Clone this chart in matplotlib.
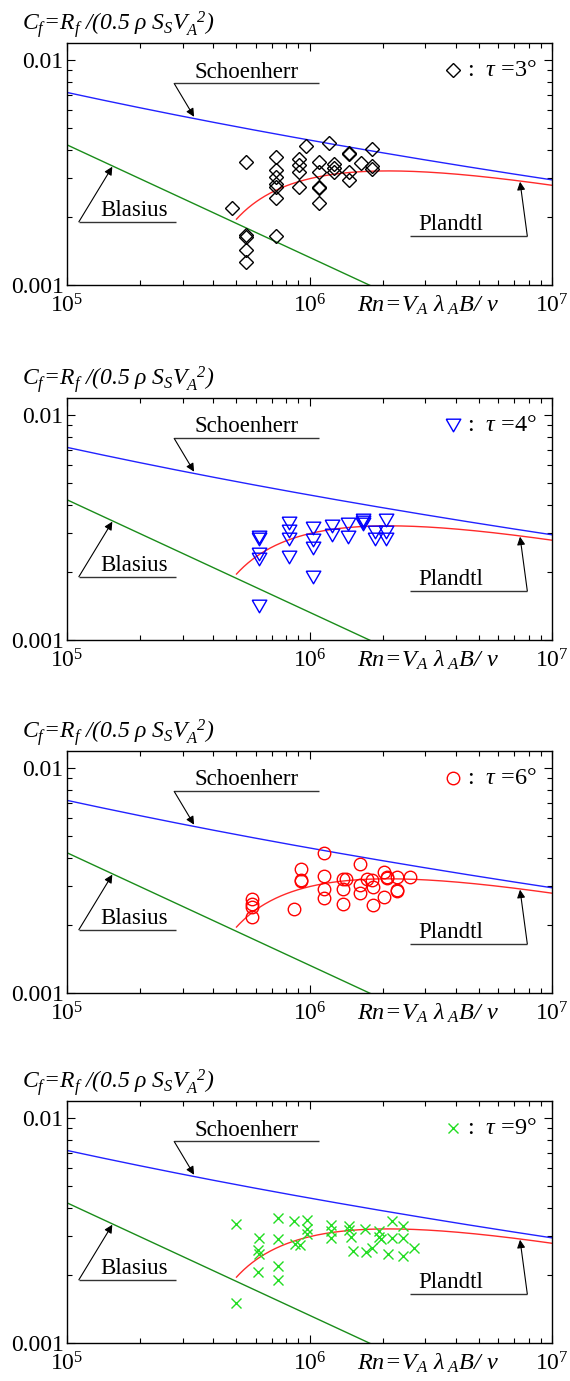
import numpy as np
import matplotlib
matplotlib.use("Agg")
import matplotlib.pyplot as plt
from matplotlib.ticker import FixedLocator, FixedFormatter, LogLocator, NullFormatter

plt.rcParams["font.family"] = ["Liberation Serif", "DejaVu Serif"]
plt.rcParams["mathtext.fontset"] = "custom"
plt.rcParams["mathtext.rm"] = "Liberation Serif:italic"
plt.rcParams["mathtext.it"] = "Liberation Serif:italic"
plt.rcParams["mathtext.bf"] = "Liberation Serif:bold"

# ---- axis ticks ----
re_ticks = [1e5, 1e6, 1e7]
re_tick_labels = [r"$\mathregular{10^{5}}$", r"$\mathregular{10^{6}}$", r"$\mathregular{10^{7}}$"]
cf_ticks = [0.001, 0.01]
cf_tick_labels = ["0.001", "0.01"]
re_limits = (1e5, 1e7)
cf_limits = (0.001, 0.0119)

# ---- trim angles (deg) ----
trim_angles = [3, 4, 6, 9]

# ---- measured friction coefficients, tau = 3 deg ----
re_t3 = [4.81e5,
         5.48e5, 5.48e5, 5.48e5, 5.48e5, 5.48e5,
         7.27e5, 7.27e5, 7.27e5, 7.27e5, 7.27e5, 7.27e5, 7.27e5,
         9.09e5, 9.09e5, 9.09e5, 9.09e5,
         9.68e5,
         1.092e6, 1.092e6, 1.092e6, 1.092e6, 1.092e6,
         1.199e6,
         1.262e6, 1.262e6, 1.262e6,
         1.449e6, 1.449e6, 1.449e6, 1.449e6,
         1.635e6,
         1.813e6, 1.813e6, 1.813e6]
cf_t3 = [0.00221,
         0.00353, 0.00167, 0.00164, 0.00143, 0.00126,
         0.00369, 0.00324, 0.00303, 0.00280, 0.00274, 0.00243, 0.00165,
         0.00363, 0.00341, 0.00319, 0.00274,
         0.00415,
         0.00351, 0.00319, 0.00274, 0.00269, 0.00232,
         0.00429,
         0.00345, 0.00330, 0.00319,
         0.00385, 0.00383, 0.00319, 0.00293,
         0.00347,
         0.00401, 0.00339, 0.00327]

# ---- tau = 4 deg ----
re_t4 = [6.21e5, 6.21e5, 6.21e5, 6.21e5, 6.21e5,
         8.26e5, 8.26e5, 8.26e5, 8.26e5,
         1.037e6, 1.037e6, 1.037e6, 1.037e6,
         1.234e6, 1.234e6,
         1.445e6, 1.445e6,
         1.657e6, 1.657e6, 1.657e6,
         1.862e6, 1.862e6,
         2.068e6, 2.068e6, 2.068e6]
cf_t4 = [0.00286, 0.00280, 0.00240, 0.00228, 0.00141,
         0.00330, 0.00305, 0.00281, 0.00233,
         0.00316, 0.00278, 0.00256, 0.00190,
         0.00321, 0.00293,
         0.00327, 0.00286,
         0.00341, 0.00336, 0.00327,
         0.00303, 0.00280,
         0.00341, 0.00303, 0.00280]

# ---- tau = 6 deg ----
re_t6 = [5.78e5, 5.78e5, 5.78e5, 5.78e5,
         8.66e5,
         9.23e5, 9.23e5, 9.23e5,
         1.148e6, 1.148e6, 1.148e6, 1.148e6,
         1.378e6, 1.378e6, 1.378e6, 1.409e6,
         1.615e6, 1.615e6, 1.615e6,
         1.721e6,
         1.805e6, 1.833e6, 1.833e6,
         2.029e6, 2.080e6, 2.080e6, 2.029e6,
         2.288e6, 2.288e6, 2.288e6,
         2.597e6]
cf_t6 = [0.00261, 0.00249, 0.00240, 0.00217,
         0.00236,
         0.00355, 0.00318, 0.00313,
         0.00418, 0.00331, 0.00289, 0.00264,
         0.00320, 0.00289, 0.00249, 0.00320,
         0.00374, 0.00302, 0.00277,
         0.00320,
         0.00318, 0.00295, 0.00246,
         0.00346, 0.00323, 0.00327, 0.00268,
         0.00327, 0.00287, 0.00285,
         0.00329]

# ---- tau = 9 deg ----
re_t9 = [4.98e5, 4.98e5,
         6.21e5, 6.11e5, 6.21e5, 6.11e5,
         7.39e5, 7.39e5, 7.39e5, 7.39e5,
         8.63e5, 8.71e5, 9.14e5,
         9.74e5, 9.80e5, 9.74e5,
         1.223e6, 1.223e6, 1.223e6,
         1.459e6, 1.459e6, 1.479e6,
         1.507e6,
         1.693e6, 1.710e6,
         1.805e6,
         1.941e6, 1.941e6, 1.966e6,
         2.113e6,
         2.18e6, 2.18e6,
         2.44e6, 2.44e6, 2.424e6,
         2.706e6]
cf_t9 = [0.00338, 0.00151,
         0.00292, 0.00259, 0.00250, 0.00207,
         0.00358, 0.00289, 0.00221, 0.00191,
         0.00350, 0.00275, 0.00273,
         0.00352, 0.00320, 0.00304,
         0.00334, 0.00316, 0.00292,
         0.00331, 0.00318, 0.00297,
         0.00256,
         0.00320, 0.00255,
         0.00264,
         0.00316, 0.00297, 0.00289,
         0.00250,
         0.00350, 0.00292,
         0.00331, 0.00292, 0.00244,
         0.00264]

series_re = [re_t3, re_t4, re_t6, re_t9]
series_cf = [cf_t3, cf_t4, cf_t6, cf_t9]


# ---- friction lines ----
def schoenherr(re):
    cf = np.full_like(re, 0.004)
    for _ in range(60):
        cf = (0.242 / np.log10(re * cf)) ** 2
    return cf


def blasius(re):
    return 1.328 / np.sqrt(re)


def prandtl_transition(re):
    return 0.074 * re ** -0.2 - 1700.0 / re


re_full = np.logspace(5, 7, 300)
re_turb = np.logspace(np.log10(5e5), 7, 300)

# ---- marker styles ----
tri_down = [(-1.0, 0.866), (1.0, 0.866), (0.0, -0.866), (-1.0, 0.866)]
marker_styles = [
    dict(marker="D", ms=6.8, mfc="none", mec="black", mew=1.0),
    dict(marker=tri_down, ms=10.5, mfc="none", mec="#0000ff", mew=1.0),
    dict(marker="o", ms=9.0, mfc="none", mec="#ff0000", mew=1.0),
    dict(marker="x", ms=7.5, mfc="none", mec="#22dd22", mew=1.0),
]

fig = plt.figure(figsize=(5.70, 13.81), dpi=100)
left, width, height = 0.1175, 0.851, 0.1752
bottoms = [0.7936, 0.5366, 0.2810, 0.0275]

fs = 16.5
line_kw = dict(color="#333333", lw=1.0, solid_capstyle="butt")
arrow_kw = dict(arrowstyle="-|>", color="black", lw=0.8, mutation_scale=12,
                shrinkA=0, shrinkB=0)

for k, bottom in enumerate(bottoms):
    ax = fig.add_axes([left, bottom, width, height])
    ax.set_xscale("log")
    ax.set_yscale("log")
    ax.set_xlim(*re_limits)
    ax.set_ylim(*cf_limits)

    ax.plot(re_full, schoenherr(re_full), color="#2222ff", lw=1.0)
    ax.plot(re_full, blasius(re_full), color="#1a8c1a", lw=1.0)
    ax.plot(re_turb, prandtl_transition(re_turb), color="#ff2a2a", lw=1.0)

    ax.plot(series_re[k], series_cf[k], ls="none", **marker_styles[k])

    # Schoenherr label
    ax.plot([10 ** 5.442, 10 ** 6.041], [10 ** -2.104] * 2, **line_kw)
    ax.text(10 ** 5.742, 10 ** -2.100, "Schoenherr", fontsize=fs,
            ha="center", va="bottom")
    ax.annotate("", xy=(10 ** 5.524, 10 ** -2.252),
                xytext=(10 ** 5.442, 10 ** -2.104), arrowprops=arrow_kw)

    # Blasius label
    ax.plot([10 ** 5.049, 10 ** 5.449], [10 ** -2.719] * 2, **line_kw)
    ax.text(10 ** 5.277, 10 ** -2.715, "Blasius", fontsize=fs,
            ha="center", va="bottom")
    ax.annotate("", xy=(10 ** 5.187, 10 ** -2.474),
                xytext=(10 ** 5.049, 10 ** -2.719), arrowprops=arrow_kw)

    # Prandtl label
    ax.plot([10 ** 6.413, 10 ** 6.898], [10 ** -2.782] * 2, **line_kw)
    ax.text(10 ** 6.582, 10 ** -2.778, "Plandtl", fontsize=fs,
            ha="center", va="bottom")
    ax.annotate("", xy=(10 ** 6.868, 10 ** -2.541),
                xytext=(10 ** 6.898, 10 ** -2.782), arrowprops=arrow_kw)

    # symbol key
    ax.plot([0.796], [0.888], transform=ax.transAxes, ls="none",
            clip_on=False, **marker_styles[k])
    ax.text(0.824, 0.888, r":  $\tau$ =%d°" % trim_angles[k],
            transform=ax.transAxes, fontsize=17.5, ha="left", va="center")

    # axis titles
    ax.text(-0.093, 1.048,
            r"$C_f\!=\!R_f\ /(0.5\ \rho\ S_S V_A^{\ \ 2})$",
            transform=ax.transAxes, fontsize=17, ha="left", va="baseline")
    ax.text(0.744, -0.112, r"$Rn\!=\!V_A\ \lambda_{\ A}B/\ \nu$",
            transform=ax.transAxes, fontsize=17.5, ha="center", va="baseline")

    ax.xaxis.set_major_locator(FixedLocator(re_ticks))
    ax.xaxis.set_major_formatter(FixedFormatter(re_tick_labels))
    ax.xaxis.set_minor_locator(LogLocator(base=10, subs=np.arange(2, 10)))
    ax.xaxis.set_minor_formatter(NullFormatter())
    ax.yaxis.set_major_locator(FixedLocator(cf_ticks))
    ax.yaxis.set_major_formatter(FixedFormatter(cf_tick_labels))
    ax.yaxis.set_minor_locator(LogLocator(base=10, subs=np.arange(2, 10)))
    ax.yaxis.set_minor_formatter(NullFormatter())

    ax.tick_params(which="both", direction="in", top=True, right=True,
                   width=0.8, labelsize=17)
    ax.tick_params(which="major", length=6)
    ax.tick_params(which="minor", length=3.5)
    ax.tick_params(axis="x", pad=6.5)
    ax.tick_params(axis="y", pad=2.5)
    for sp in ax.spines.values():
        sp.set_linewidth(1.0)

fig.savefig("out.png", dpi=100)
